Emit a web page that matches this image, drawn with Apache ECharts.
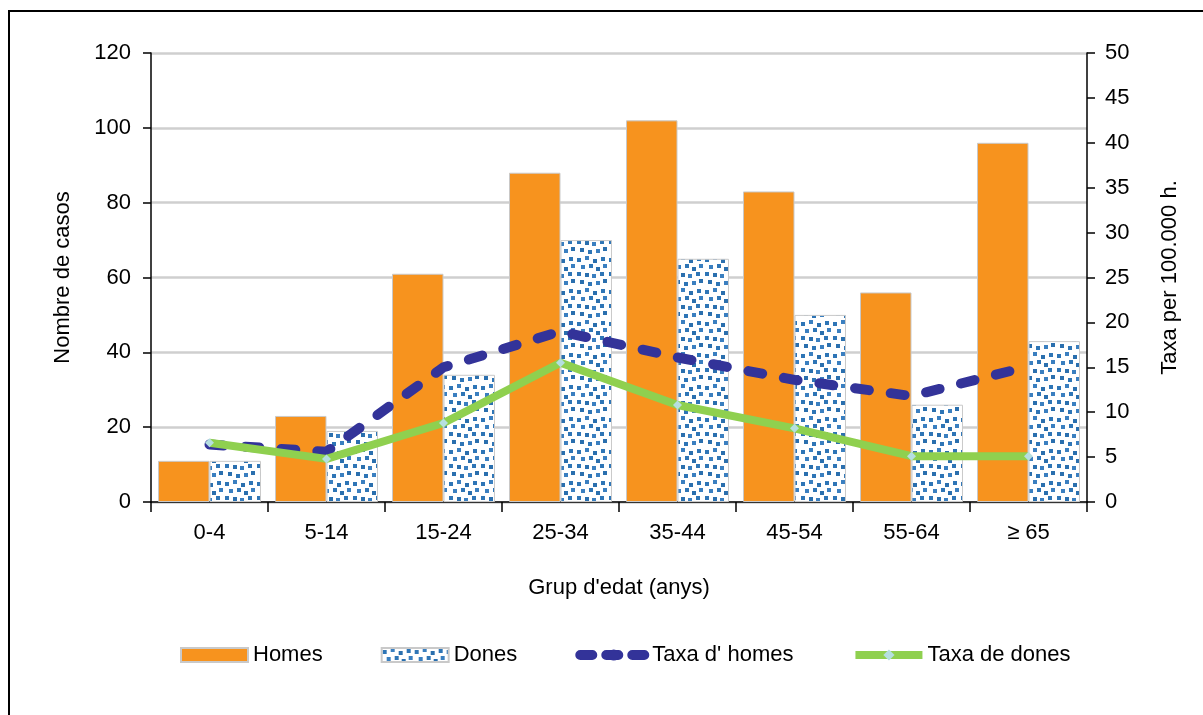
<!DOCTYPE html>
<html>
<head>
<meta charset="utf-8">
<script src="https://cdn.jsdelivr.net/npm/echarts@6/dist/echarts.min.js"></script>
<style>
  html, body { margin: 0; padding: 0; background: #fff; }
  #chart { width: 1203px; height: 715px; }
</style>
</head>
<body>
<div id="chart"></div>
<script>
// Age groups (x axis)
const categories = ['0-4', '5-14', '15-24', '25-34', '35-44', '45-54', '55-64', '≥ 65'];
// Case counts (left axis)
const homes = [11, 23, 61, 88, 102, 83, 56, 96];
const dones = [11, 19, 34, 70, 65, 50, 26, 43];
// Rates per 100,000 inhabitants (right axis)
const taxaHomes = [6.4, 5.6, 15.0, 19.0, 16.1, 13.6, 11.8, 15.1];
const taxaDones = [6.6, 4.8, 8.8, 15.5, 10.8, 8.2, 5.1, 5.1];

const FONT = 'Liberation Sans, Arial, sans-serif';

// Dotted fill for the women's bars: small blue squares scattered on white
function makeDotTile() {
  const c = document.createElement('canvas');
  c.width = 32; c.height = 32;
  const g = c.getContext('2d');
  g.fillStyle = '#ffffff';
  g.fillRect(0, 0, 32, 32);
  const squares = [
    [1, 2, '#2e75b6'], [9, 0, '#3a7fc0'], [17, 3, '#2a6fae'], [25, 1, '#2e75b6'],
    [5, 9, '#3a7fc0'], [13, 8, '#2e75b6'], [20, 11, '#2a6fae'], [27, 8, '#3a7fc0'],
    [1, 16, '#2e75b6'], [9, 17, '#2a6fae'], [16, 18, '#3a7fc0'], [24, 16, '#2e75b6'],
    [4, 24, '#2a6fae'], [12, 26, '#2e75b6'], [20, 25, '#3a7fc0'], [27, 23, '#2a6fae']
  ];
  squares.forEach(([x, y, col]) => {
    g.fillStyle = col;
    g.fillRect(x, y, 4, 4);
  });
  return c;
}
const dotPattern = { image: makeDotTile(), repeat: 'repeat' };

const chart = echarts.init(document.getElementById('chart'), null, { renderer: 'canvas' });

const axisLabelStyle = { color: '#000', fontFamily: FONT, fontSize: 22 };
const axisNameStyle = { color: '#000', fontFamily: FONT, fontSize: 22 };

const homesLine = { color: '#333399', width: 10, type: [14, 22], cap: 'round', join: 'round' };
const donesLine = { color: '#8fd04f', width: 8, join: 'round' };

chart.setOption({
  animation: false,
  backgroundColor: '#fff',
  textStyle: { fontFamily: FONT },
  graphic: [{
    type: 'rect',
    shape: { x: 9, y: 11, width: 1400, height: 900 },
    style: { fill: 'none', stroke: '#000', lineWidth: 2 },
    silent: true,
    z: 100
  }],
  grid: { left: 151, right: 116, top: 53, bottom: 213 },
  legend: {
    left: 175,
    top: 639,
    itemWidth: 67,
    itemHeight: 14,
    itemGap: 58,
    textStyle: { color: '#000', fontFamily: FONT, fontSize: 22 },
    data: [
      { name: 'Homes', icon: 'rect' },
      { name: 'Dones', icon: 'rect' },
      { name: "Taxa d' homes", lineStyle: { width: 10, type: [12, 14], cap: 'round' } },
      { name: 'Taxa de dones', lineStyle: { width: 8 } }
    ]
  },
  xAxis: {
    type: 'category',
    data: categories,
    name: "Grup d'edat (anys)",
    nameLocation: 'middle',
    nameGap: 75,
    nameTextStyle: axisNameStyle,
    axisLine: { lineStyle: { color: '#000', width: 1.5 } },
    axisTick: { show: true, length: 10, lineStyle: { color: '#000', width: 1.5 } },
    axisLabel: Object.assign({ margin: 20 }, axisLabelStyle)
  },
  yAxis: [{
    type: 'value',
    min: 0, max: 120, interval: 20,
    name: 'Nombre de casos',
    nameLocation: 'middle',
    nameRotate: 90,
    nameGap: 77,
    nameTextStyle: axisNameStyle,
    axisLine: { show: true, lineStyle: { color: '#000', width: 1.5 } },
    axisTick: { show: true, length: 8, lineStyle: { color: '#000', width: 1.5 } },
    axisLabel: Object.assign({ margin: 20 }, axisLabelStyle),
    splitLine: { show: true, lineStyle: { color: '#cfcfcf', width: 2.5 } }
  }, {
    type: 'value',
    min: 0, max: 50, interval: 5,
    name: 'Taxa per 100.000 h.',
    nameLocation: 'middle',
    nameRotate: 90,
    nameGap: 72,
    nameTextStyle: axisNameStyle,
    axisLine: { show: true, lineStyle: { color: '#000', width: 1.5 } },
    axisTick: { show: true, length: 8, lineStyle: { color: '#000', width: 1.5 } },
    axisLabel: Object.assign({ margin: 18 }, axisLabelStyle),
    splitLine: { show: false }
  }],
  series: [{
    name: 'Homes',
    type: 'bar',
    data: homes,
    barGap: '0%',
    barCategoryGap: '12%',
    itemStyle: { color: '#f7931e', borderColor: '#c9c9c9', borderWidth: 1 }
  }, {
    name: 'Dones',
    type: 'bar',
    data: dones,
    itemStyle: { color: dotPattern, borderColor: '#c9c9c9', borderWidth: 1 }
  }, {
    name: "Taxa d' homes",
    type: 'line',
    yAxisIndex: 1,
    data: taxaHomes,
    z: 5,
    symbol: 'none',
    itemStyle: { color: '#333399' },
    lineStyle: homesLine
  }, {
    name: 'Taxa de dones',
    type: 'line',
    yAxisIndex: 1,
    data: taxaDones,
    z: 6,
    symbol: 'diamond',
    symbolSize: 9,
    itemStyle: { color: '#b5dfe0' },
    lineStyle: donesLine
  }]
});
</script>
</body>
</html>
